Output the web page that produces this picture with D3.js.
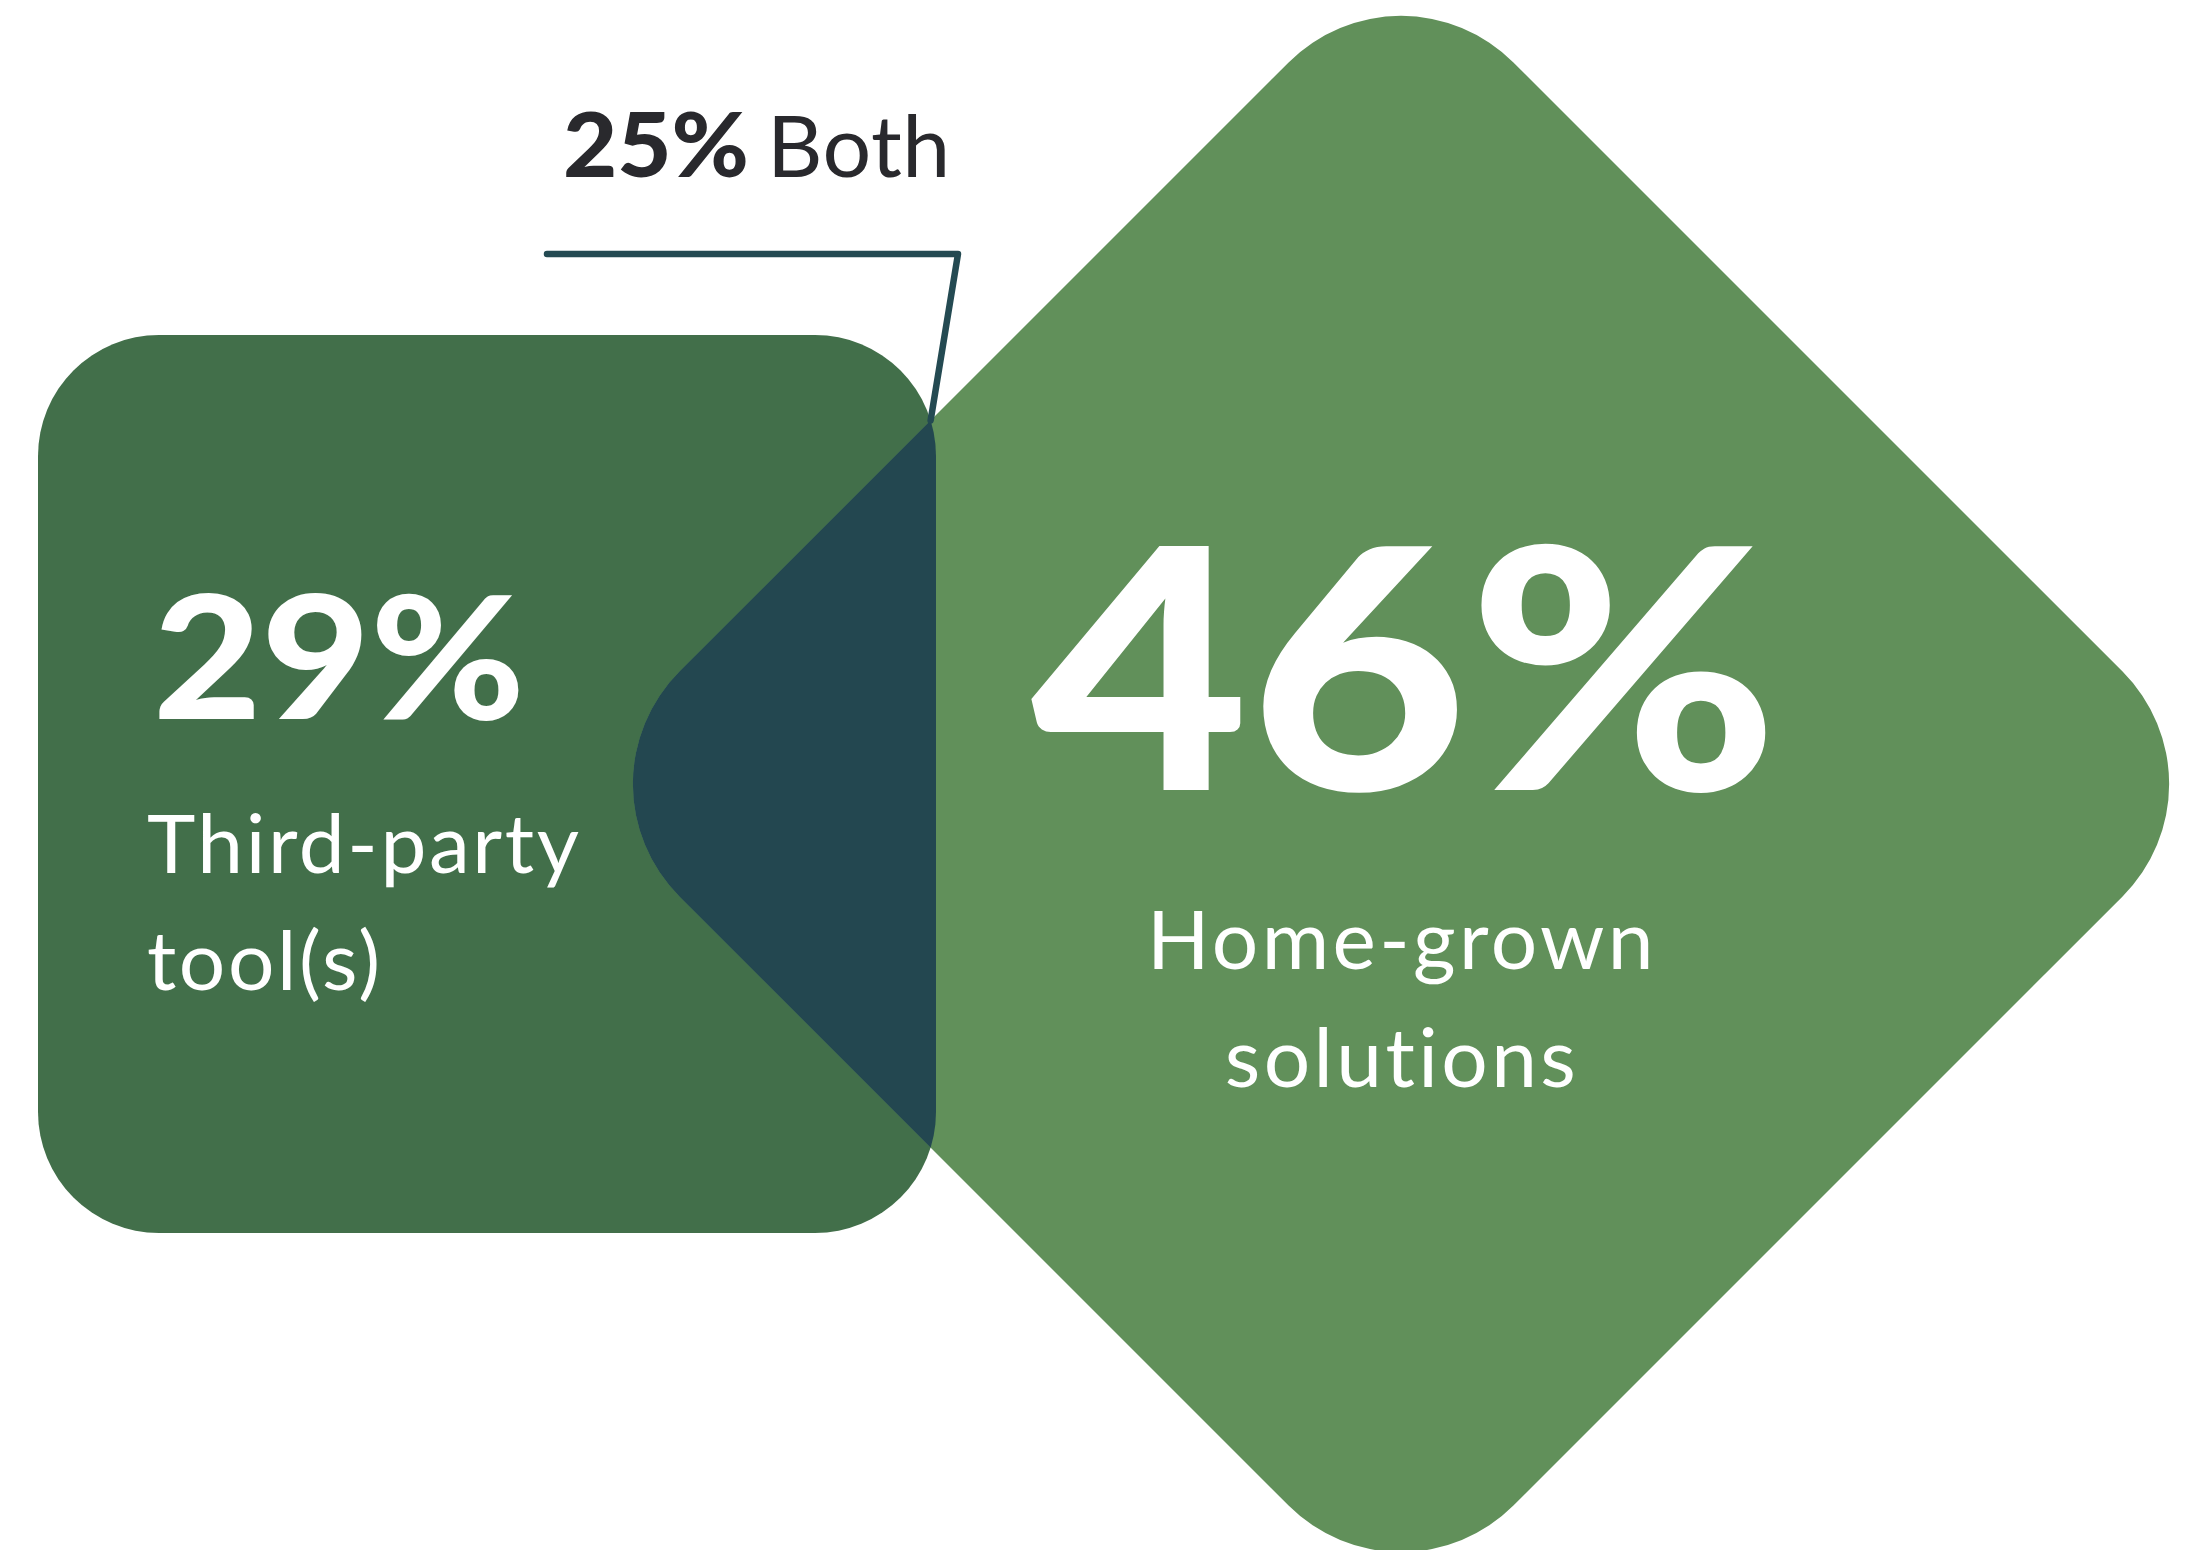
<!DOCTYPE html>
<html>
<head>
<meta charset="utf-8">
<script src="https://cdn.jsdelivr.net/npm/d3@7"></script>
<style>
  html, body { margin: 0; padding: 0; background: #ffffff; }
  svg { display: block; }
  text { font-variant-ligatures: none; font-feature-settings: "liga" 0, "clig" 0; }
</style>
</head>
<body>
<script>
// Survey shares: tooling used
const categories = ["Third-party tool(s)", "Home-grown solutions", "Both"];
const values = [29, 46, 25];
const labelLines = [["Third-party", "tool(s)"], ["Home-grown", "solutions"], ["Both"]];

const W = 2212, H = 1550;
const colors = { rect: "#426f4a", diamond: "#61905a", overlap: "#234750", leader: "#244a52", ink: "#29292d" };

// Shape geometry
const sq = { x: 38, y: 335, size: 898, r: 121 };
const dm = { cx: 1401, cy: 784, half: 834, r: 159 };   // half = centre-to-sharp-corner distance
const dmSide = dm.half * Math.SQRT2;

const fmt = d => `${d}%`;

const svg = d3.select("body").append("svg")
  .attr("width", W).attr("height", H)
  .attr("viewBox", `0 0 ${W} ${H}`);

svg.append("rect").attr("width", W).attr("height", H).attr("fill", "#fff");

const defs = svg.append("defs");
defs.append("clipPath").attr("id", "sq-clip")
  .append("rect")
  .attr("x", sq.x).attr("y", sq.y)
  .attr("width", sq.size).attr("height", sq.size)
  .attr("rx", sq.r).attr("ry", sq.r);

// Third-party square
svg.append("rect")
  .attr("x", sq.x).attr("y", sq.y)
  .attr("width", sq.size).attr("height", sq.size)
  .attr("rx", sq.r).attr("ry", sq.r)
  .attr("fill", colors.rect);

// Home-grown diamond
const diamond = g => g.append("rect")
  .attr("x", -dmSide / 2).attr("y", -dmSide / 2)
  .attr("width", dmSide).attr("height", dmSide)
  .attr("rx", dm.r).attr("ry", dm.r)
  .attr("transform", `translate(${dm.cx},${dm.cy}) rotate(45)`);

diamond(svg).attr("fill", colors.diamond);

// Overlap ("Both")
diamond(svg.append("g").attr("clip-path", "url(#sq-clip)")).attr("fill", colors.overlap);

// Leader line to the upper intersection of the two shapes
const arcC = [sq.x + sq.size - sq.r, sq.y + sq.r];
const edgeK = (dm.cx - dm.half) + dm.cy; // upper-left diamond edge: x + y = edgeK
const cdiff = (edgeK - arcC[0] - arcC[1]) / sq.r; // cos t - sin t
const t = Math.acos(cdiff / Math.SQRT2) - Math.PI / 4;
const hit = [arcC[0] + sq.r * Math.cos(t), arcC[1] - sq.r * Math.sin(t)];

svg.append("path")
  .attr("d", d3.line()([[547, 254], [958, 254], hit]))
  .attr("fill", "none")
  .attr("stroke", colors.leader)
  .attr("stroke-width", 6.5)
  .attr("stroke-linecap", "round")
  .attr("stroke-linejoin", "round");

const FONT = "Lato, 'Open Sans', sans-serif";

// Helper for one line of text
function label(x, y, str, opt) {
  const tx = svg.append("text")
    .attr("x", x).attr("y", y)
    .attr("font-family", FONT)
    .attr("font-weight", opt.weight || 400)
    .attr("font-size", opt.size)
    .attr("fill", opt.fill || "#fff")
    .attr("text-anchor", opt.anchor || "start")
    .attr("letter-spacing", opt.spacing || 0)
    .text(str);
  if (opt.width) tx.attr("textLength", opt.width).attr("lengthAdjust", "spacingAndGlyphs");
  return tx;
}

// Third-party label
label(153, 719, fmt(values[0]), { weight: 900, size: 172, width: 372 });
labelLines[0].forEach((line, i) => label(147, 873 + i * 117, line, { size: 82, spacing: 2.6 }));

// Home-grown label
label(1031, 790, fmt(values[1]), { weight: 900, size: 336, width: 748 });
labelLines[1].forEach((line, i) => label(1402, 969 + i * 118, line, { size: 82, spacing: 3.4, anchor: "middle" }));

// Both label
label(563, 177, fmt(values[2]), { weight: 900, size: 89, width: 186, fill: colors.ink });
label(767, 177, labelLines[2][0], { size: 86, spacing: 0.5, fill: colors.ink });
</script>
</body>
</html>
